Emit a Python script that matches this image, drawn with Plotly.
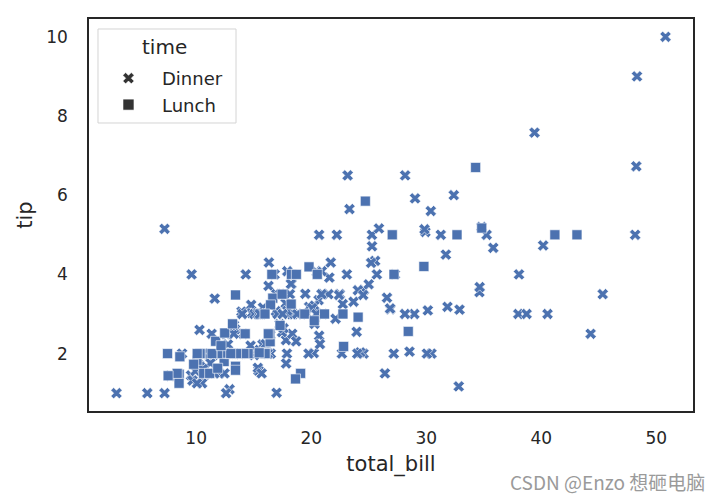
import plotly.graph_objects as go

# Dinner observations (total_bill, tip)
dinner_bill = [16.99, 10.34, 21.01, 23.68, 24.59, 25.29, 8.77, 26.88, 15.04, 14.78, 10.27, 35.26, 15.42, 18.43, 14.83, 21.58, 10.33, 16.29, 16.97,
               20.65, 17.92, 20.29, 15.77, 39.42, 19.82, 17.81, 13.37, 12.69, 21.7, 19.65, 9.55, 18.35, 15.06, 20.69, 17.78, 24.06, 16.31, 16.93, 18.69, 31.27, 16.04,
               17.46, 13.94, 9.68, 30.4, 18.29, 22.23, 32.4, 28.55, 18.04, 12.54, 10.29, 34.81, 9.94, 25.56, 19.49,
               38.01, 26.41, 11.24, 48.27, 20.29, 13.81, 11.02, 18.29, 17.59, 20.08, 16.45, 3.07, 20.23, 15.01, 12.02, 17.07, 26.86, 25.28, 14.73, 10.51, 17.92,
               28.97, 22.49, 5.75, 16.32, 22.75, 40.17, 27.28, 12.03, 21.01, 12.46, 11.35, 15.38,
               44.3, 22.42, 20.92, 15.36, 20.49, 25.21, 18.24, 14.31, 14.0, 7.25, 38.07, 23.95, 25.71, 17.31, 29.93,
               14.07, 13.13, 17.26, 24.55, 19.77, 29.85, 48.17, 25.0, 13.39, 16.49, 21.5, 12.66, 16.21, 13.81, 17.51, 24.52, 20.76, 31.71,
               10.59, 10.63, 50.81, 15.81, 7.25, 31.85, 16.82, 32.9, 17.89, 14.48, 9.6, 34.63, 34.65, 23.33, 45.35, 23.17, 40.55, 20.69, 20.9, 30.46, 18.15, 23.1, 15.69,
               26.59, 38.73, 24.27, 12.76, 30.06, 25.89, 48.33, 13.27, 28.17, 12.9, 28.15, 11.59, 7.74, 30.14,
               20.45, 13.28, 22.12, 24.01, 15.69, 11.61, 10.77, 15.53, 10.07, 12.6, 32.83, 35.83, 29.03, 27.18, 22.67, 17.82, 18.78]
dinner_tip = [1.01, 1.66, 3.5, 3.31, 3.61, 4.71, 2.0, 3.12, 1.96, 3.23, 1.71, 5.0, 1.57, 3.0, 3.02, 3.92, 1.67, 3.71, 3.5,
              3.35, 4.08, 2.75, 2.23, 7.58, 3.18, 2.34, 2.0, 2.0, 4.3, 3.0, 1.45, 2.5, 3.0, 2.45, 3.27, 3.6, 2.0, 3.07, 2.31, 5.0, 2.24,
              2.54, 3.06, 1.32, 5.6, 3.0, 5.0, 6.0, 2.05, 3.0, 2.5, 2.6, 5.2, 1.56, 4.34, 3.51,
              3.0, 1.5, 1.76, 6.73, 3.21, 2.0, 1.98, 3.76, 2.64, 3.15, 2.47, 1.0, 2.01, 2.09, 1.97, 3.0, 3.14, 5.0, 2.2, 1.25, 3.08,
              3.0, 3.5, 1.0, 4.3, 3.25, 4.73, 4.0, 1.5, 3.0, 1.5, 2.5, 3.0,
              2.5, 3.48, 4.08, 1.64, 4.06, 4.29, 3.76, 4.0, 3.0, 1.0, 4.0, 2.55, 4.0, 3.5, 5.07,
              2.5, 2.0, 2.74, 2.0, 2.0, 5.14, 5.0, 3.75, 2.61, 2.0, 3.5, 2.5, 2.0, 2.0, 3.0, 3.48, 2.24, 4.5,
              1.61, 2.0, 10.0, 3.16, 5.15, 3.18, 4.0, 3.11, 2.0, 2.0, 4.0, 3.55, 3.68, 5.65, 3.5, 6.5, 3.0, 5.0, 3.5, 2.0, 3.5, 4.0, 1.5,
              3.41, 3.0, 2.03, 2.23, 2.0, 5.16, 9.0, 2.5, 6.5, 1.1, 3.0, 1.5, 1.44, 3.09,
              3.0, 2.72, 2.88, 2.0, 3.0, 3.39, 1.47, 3.0, 1.25, 1.0, 1.17, 4.67, 5.92, 2.0, 2.0, 1.75, 3.0]

# Lunch observations (total_bill, tip)
lunch_bill = [27.2, 22.76, 17.29, 19.44, 16.66, 10.07, 32.68, 15.98, 34.83, 13.03, 18.28, 24.71, 21.16,
              10.65, 12.43, 24.08, 11.69, 13.42, 14.26, 15.95, 12.48, 29.8, 8.52, 14.52, 11.38, 22.82, 19.08, 20.27, 11.17, 12.26, 18.26,
              8.51, 10.33, 14.15, 16.0, 13.16, 17.47, 34.3, 41.19, 27.05, 16.43, 8.35, 18.64, 11.87, 9.78, 7.51,
              19.81, 28.44, 15.48, 16.58, 7.56, 10.34, 43.11, 13.0, 13.51, 18.71, 12.74, 13.0, 16.4, 20.53, 16.47,
              12.16, 13.42, 8.58, 15.98, 13.42, 16.27, 10.09]
lunch_tip = [4.0, 3.0, 2.71, 3.0, 3.4, 1.83, 5.0, 2.03, 5.17, 2.0, 4.0, 5.85, 3.0,
             1.5, 1.8, 2.92, 2.31, 1.68, 2.5, 2.0, 2.52, 4.2, 1.48, 2.0, 2.0, 2.18, 1.5, 2.83, 1.5, 2.0, 3.25,
             1.25, 2.0, 2.0, 2.0, 2.75, 3.5, 6.7, 5.0, 5.0, 2.3, 1.5, 1.36, 1.63, 1.73, 2.0,
             4.19, 2.56, 2.02, 4.0, 1.44, 2.0, 5.0, 2.0, 2.0, 4.0, 2.01, 2.0, 2.5, 4.0, 3.23,
             2.2, 3.48, 1.92, 3.0, 1.58, 2.5, 2.0]

x_ticks = [10, 20, 30, 40, 50]
y_ticks = [2, 4, 6, 8, 10]

BLUE = "#4c72b0"
DARK = "#262626"
FONT = "DejaVu Sans"

fig = go.Figure()
fig.add_trace(go.Scatter(x=dinner_bill, y=dinner_tip, mode="markers", name="Dinner", showlegend=False,
                         marker=dict(symbol="x", size=10, color=BLUE, line=dict(color="white", width=0.6))))
fig.add_trace(go.Scatter(x=lunch_bill, y=lunch_tip, mode="markers", name="Lunch", showlegend=False,
                         marker=dict(symbol="square", size=10, color=BLUE, line=dict(color="white", width=0.6))))
# legend entries (neutral colour, as seaborn draws style legends)
fig.add_trace(go.Scatter(x=[None], y=[None], mode="markers", name="Dinner",
                         marker=dict(symbol="x", size=10, color="#333333", line=dict(color="white", width=0.6))))
fig.add_trace(go.Scatter(x=[None], y=[None], mode="markers", name="Lunch",
                         marker=dict(symbol="square", size=11, color="#333333", line=dict(color="white", width=0.6))))

axis_common = dict(showline=True, mirror=True, linecolor=DARK, linewidth=1.5, showgrid=False,
                   zeroline=False, ticks="outside", tickcolor="rgba(0,0,0,0)",
                   tickfont=dict(family=FONT, size=17, color=DARK))

fig.update_layout(
    width=720, height=500,
    margin=dict(l=89, r=27, t=19, b=89),
    paper_bgcolor="white", plot_bgcolor="white",
    font=dict(family=FONT, color=DARK),
    xaxis=dict(range=[0.68, 53.2], tickvals=x_ticks, ticklen=11,
               title=dict(text="total_bill", font=dict(family=FONT, size=21, color=DARK), standoff=9),
               **axis_common),
    yaxis=dict(range=[0.55, 10.45], tickvals=y_ticks, ticklen=16,
               title=dict(text="tip", font=dict(family=FONT, size=21, color=DARK), standoff=8),
               **axis_common),
    legend=dict(x=0.0099, y=0.8954, xanchor="left", yanchor="top",
                borderwidth=0, bgcolor="rgba(0,0,0,0)",
                font=dict(family=FONT, size=18, color=DARK), itemwidth=57),
    shapes=[dict(type="rect", xref="paper", yref="paper", x0=0.0149, x1=0.2434, y0=0.7347, y1=0.9745,
                 line=dict(color="#d4d4d4", width=1), fillcolor="rgba(255,255,255,0.85)", layer="above")],
    annotations=[dict(text="time", xref="paper", yref="paper", x=0.1258, y=0.9286,
                      xanchor="center", yanchor="middle", showarrow=False,
                      font=dict(family=FONT, size=20, color=DARK)),
                 dict(text="CSDN @Enzo 想砸电脑", xref="paper", yref="paper", x=1.023, y=-0.179,
                      xanchor="right", yanchor="middle", showarrow=False,
                      font=dict(family="Noto Sans CJK SC", size=19, color="#9a9a9a"))],
)

fig.write_html("out.html", config={"displayModeBar": False},
               post_script="document.body.style.margin='0';")
